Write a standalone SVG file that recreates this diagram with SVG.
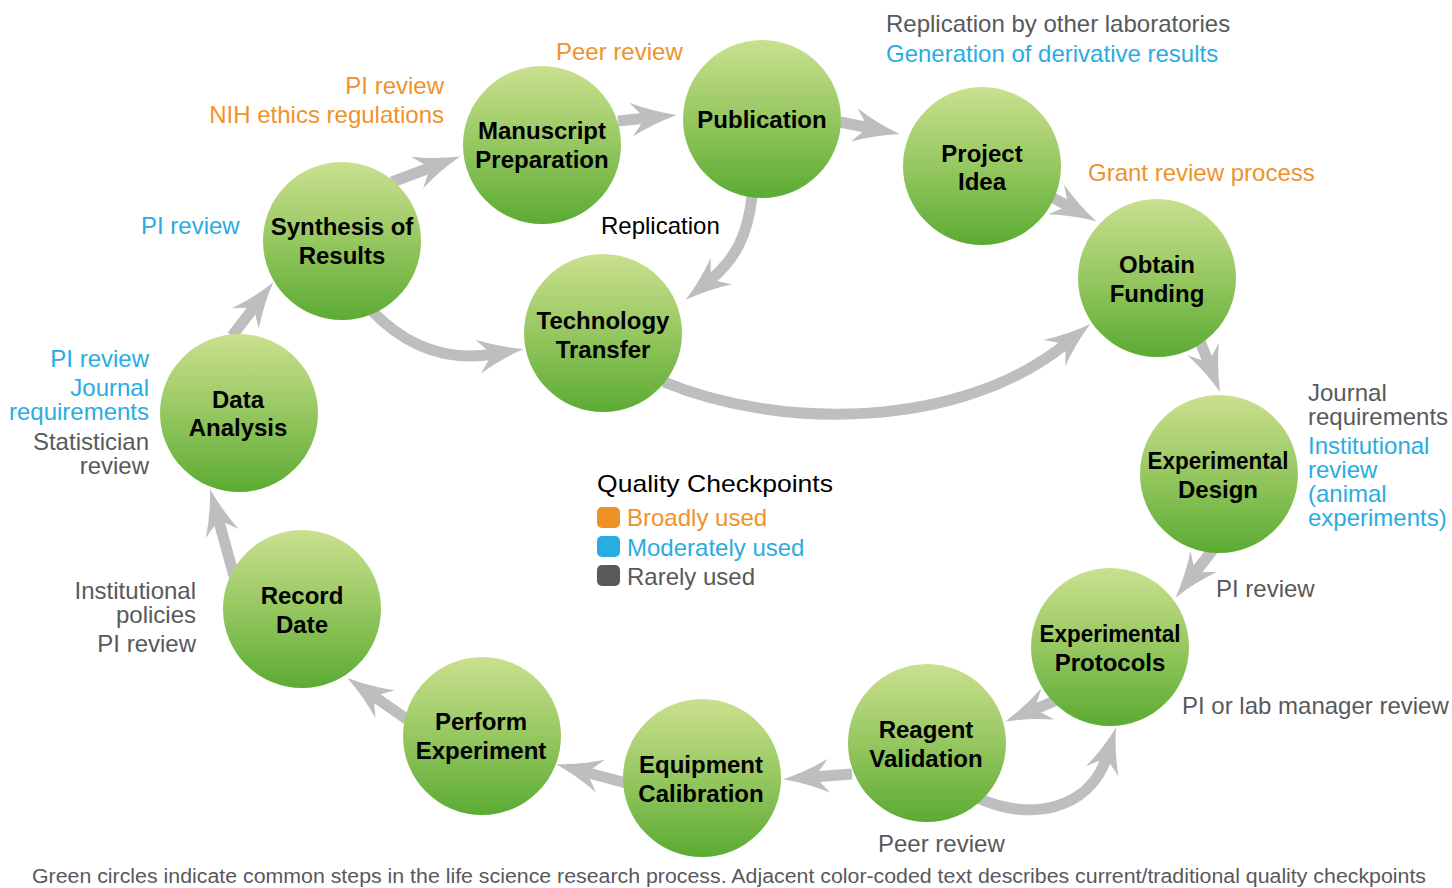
<svg xmlns="http://www.w3.org/2000/svg" width="1452" height="888" viewBox="0 0 1452 888">
<defs>
<linearGradient id="g" x1="0" y1="0" x2="0" y2="1">
<stop offset="0" stop-color="#cae08f"/>
<stop offset="0.5" stop-color="#96c760"/>
<stop offset="1" stop-color="#5bab33"/>
</linearGradient>
<marker id="ah" markerUnits="userSpaceOnUse" viewBox="0 -18 46 36" markerWidth="46" markerHeight="36" refX="16" refY="0" orient="auto">
<path d="M46,0 Q22,-6 0,-17 L14,0 L0,17 Q22,6 46,0 Z" fill="#bdbec0"/>
</marker>
<style>
.c{fill:url(#g)}
.n{font-family:"Liberation Sans",Arial,sans-serif;font-weight:bold;font-size:24px;fill:#000;text-anchor:middle}
.t{font-family:"Liberation Sans",Arial,sans-serif;font-size:24px}
.o{fill:#ef922b}
.b{fill:#2aace2}
.k{fill:#58595b}
.e{text-anchor:end}
.a{fill:none;stroke:#bdbec0;stroke-width:11;marker-end:url(#ah)}
</style>
</defs>
<rect width="1452" height="888" fill="#fff"/>
<g id="connectors">
<path class="a" d="M392,182 L432,167"/>
<path class="a" d="M618,121 L647,118"/>
<path class="a" d="M840,122 L870,128"/>
<path class="a" d="M1046,194 L1070,207"/>
<path class="a" d="M1198,336 L1209,364"/>
<path class="a" d="M1215,547 L1194,574"/>
<path class="a" d="M1062,698 L1033,710"/>
<path class="a" d="M978,798 C1030,822 1090,810 1107,756"/>
<path class="a" d="M852,774 L813,777"/>
<path class="a" d="M626,783 L585,772"/>
<path class="a" d="M408,720 L372,695"/>
<path class="a" d="M234,576 L218,518"/>
<path class="a" d="M232,336 L255,306"/>
<path class="a" d="M372,311 C400,340 440,363 494,354"/>
<path class="a" d="M664,382 C780,430 960,430 1067,343"/>
<path class="a" d="M752,196 C748,235 735,260 709,281"/>
</g>
<g id="manuscript"><circle class="c" cx="542" cy="145" r="79"/><text class="n" x="542" y="139">Manuscript</text><text class="n" x="542" y="168">Preparation</text></g>
<g id="publication"><circle class="c" cx="762" cy="119" r="79"/><text class="n" x="762" y="128">Publication</text></g>
<g id="project-idea"><circle class="c" cx="982" cy="166" r="79"/><text class="n" x="982" y="162">Project</text><text class="n" x="982" y="190">Idea</text></g>
<g id="obtain-funding"><circle class="c" cx="1157" cy="278" r="79"/><text class="n" x="1157" y="273">Obtain</text><text class="n" x="1157" y="302">Funding</text></g>
<g id="experimental-design"><circle class="c" cx="1219" cy="474" r="79"/><text class="n" x="1218" y="469" textLength="141" lengthAdjust="spacingAndGlyphs">Experimental</text><text class="n" x="1218" y="498">Design</text></g>
<g id="experimental-protocols"><circle class="c" cx="1110" cy="647" r="79"/><text class="n" x="1110" y="642" textLength="141" lengthAdjust="spacingAndGlyphs">Experimental</text><text class="n" x="1110" y="671">Protocols</text></g>
<g id="reagent-validation"><circle class="c" cx="927" cy="743" r="79"/><text class="n" x="926" y="738">Reagent</text><text class="n" x="926" y="767">Validation</text></g>
<g id="equipment-calibration"><circle class="c" cx="702" cy="778" r="79"/><text class="n" x="701" y="773">Equipment</text><text class="n" x="701" y="802">Calibration</text></g>
<g id="perform-experiment"><circle class="c" cx="482" cy="736" r="79"/><text class="n" x="481" y="730">Perform</text><text class="n" x="481" y="759">Experiment</text></g>
<g id="record-date"><circle class="c" cx="302" cy="609" r="79"/><text class="n" x="302" y="604">Record</text><text class="n" x="302" y="633">Date</text></g>
<g id="data-analysis"><circle class="c" cx="239" cy="413" r="79"/><text class="n" x="238" y="408">Data</text><text class="n" x="238" y="436">Analysis</text></g>
<g id="synthesis"><circle class="c" cx="342" cy="241" r="79"/><text class="n" x="342" y="235">Synthesis of</text><text class="n" x="342" y="264">Results</text></g>
<g id="technology-transfer"><circle class="c" cx="603" cy="333" r="79"/><text class="n" x="603" y="329">Technology</text><text class="n" x="603" y="358">Transfer</text></g>
<g id="checkpoints">
<text class="t o" x="556" y="60">Peer review</text>
<text class="t o e" x="444" y="94">PI review</text>
<text class="t o e" x="444" y="123">NIH ethics regulations</text>
<text class="t k" x="886" y="32">Replication by other laboratories</text>
<text class="t b" x="886" y="62">Generation of derivative results</text>
<text class="t o" x="1088" y="181">Grant review process</text>
<text class="t" x="601" y="234" fill="#000">Replication</text>
<text class="t b" x="141" y="234">PI review</text>
<text class="t b e" x="149" y="367">PI review</text>
<text class="t b e" x="149" y="396">Journal</text>
<text class="t b e" x="149" y="420">requirements</text>
<text class="t k e" x="149" y="450">Statistician</text>
<text class="t k e" x="149" y="474">review</text>
<text class="t k" x="1308" y="401">Journal</text>
<text class="t k" x="1308" y="425">requirements</text>
<text class="t b" x="1308" y="454">Institutional</text>
<text class="t b" x="1308" y="478">review</text>
<text class="t b" x="1308" y="502">(animal</text>
<text class="t b" x="1308" y="526">experiments)</text>
<text class="t k" x="1216" y="597">PI review</text>
<text class="t k" x="1182" y="714">PI or lab manager review</text>
<text class="t k" x="878" y="852">Peer review</text>
<text class="t k e" x="196" y="599">Institutional</text>
<text class="t k e" x="196" y="623">policies</text>
<text class="t k e" x="196" y="652">PI review</text>
</g>
<g id="legend">
<text class="t" x="597" y="492" font-size="26" fill="#000" textLength="236" lengthAdjust="spacingAndGlyphs">Quality Checkpoints</text>
<rect x="597" y="507" width="23" height="21" rx="5" fill="#ee9125"/>
<rect x="597" y="536" width="23" height="21" rx="5" fill="#2aace2"/>
<rect x="597" y="565" width="23" height="21" rx="5" fill="#58595b"/>
<text class="t o" x="627" y="526">Broadly used</text>
<text class="t b" x="627" y="556">Moderately used</text>
<text class="t k" x="627" y="585">Rarely used</text>
</g>
<text class="k" x="32" y="883" font-family="'Liberation Sans',Arial,sans-serif" font-size="20" textLength="1394" lengthAdjust="spacingAndGlyphs">Green circles indicate common steps in the life science research process. Adjacent color-coded text describes current/traditional quality checkpoints</text>
</svg>
